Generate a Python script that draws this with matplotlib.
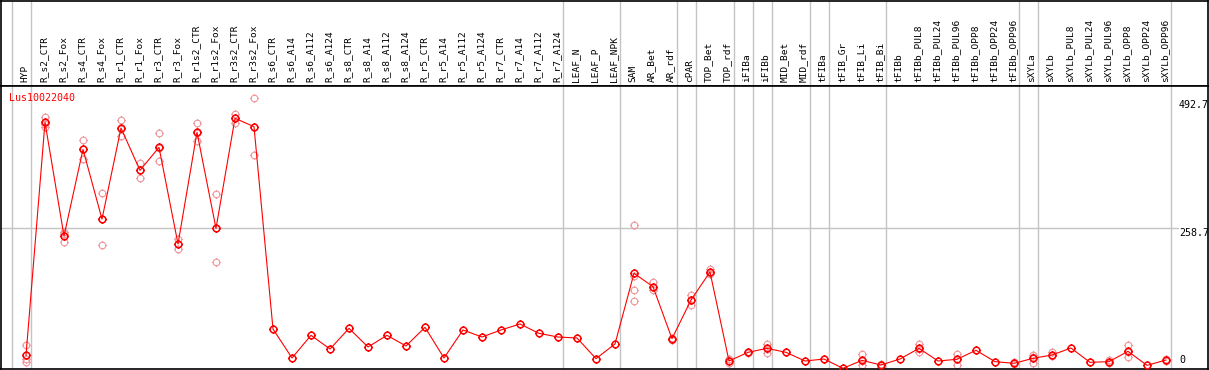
import numpy as np
import matplotlib.pyplot as plt
from matplotlib.path import Path

# Proben (Spalten), von links nach rechts
samples = ['HYP', 'R_s2_CTR', 'R_s2_Fox', 'R_s4_CTR', 'R_s4_Fox', 'R_r1_CTR', 'R_r1_Fox',
           'R_r3_CTR', 'R_r3_Fox', 'R_r1s2_CTR', 'R_r1s2_Fox', 'R_r3s2_CTR', 'R_r3s2_Fox',
           'R_s6_CTR', 'R_s6_A14', 'R_s6_A112', 'R_s6_A124', 'R_s8_CTR', 'R_s8_A14',
           'R_s8_A112', 'R_s8_A124', 'R_r5_CTR', 'R_r5_A14', 'R_r5_A112', 'R_r5_A124',
           'R_r7_CTR', 'R_r7_A14', 'R_r7_A112', 'R_r7_A124', 'LEAF_N', 'LEAF_P', 'LEAF_NPK',
           'SAM', 'AR_Bet', 'AR_rdf', 'cPAR', 'TOP_Bet', 'TOP_rdf', 'iFIBa', 'iFIBb',
           'MID_Bet', 'MID_rdf', 'tFIBa', 'tFIB_Gr', 'tFIB_Li', 'tFIB_Bi', 'tFIBb',
           'tFIBb_PUL8', 'tFIBb_PUL24', 'tFIBb_PUL96', 'tFIBb_OPP8', 'tFIBb_OPP24',
           'tFIBb_OPP96', 'sXYLa', 'sXYLb', 'sXYLb_PUL8', 'sXYLb_PUL24', 'sXYLb_PUL96',
           'sXYLb_OPP8', 'sXYLb_OPP24', 'sXYLb_OPP96']

# Mittelwerte
means = [25.0, 452.6, 244.0, 403.0, 275.0, 442.0, 364.5, 406.7, 229.4, 434.3, 258.0, 460.0,
         444.6, 73.4, 20.2, 61.8, 36.7, 74.6, 40.4, 61.8, 42.2, 76.5, 20.2, 71.6, 58.7,
         71.6, 82.6, 65.4, 58.7, 56.9, 19.0, 45.9, 175.6, 151.0, 55.6, 126.6, 178.0, 14.7,
         30.6, 37.9, 30.6, 14.7, 18.3, 1.2, 15.9, 7.3, 18.3, 37.9, 14.7, 17.8, 34.3, 13.5,
         10.4, 19.6, 25.7, 38.5, 12.2, 13.5, 32.4, 6.7, 16.5]

# Einzelwerte (Replikate), leer wenn nicht sichtbar
reps = [[43.4, 19.0, 12.8], [463.0, 444.6, 450.0], [252.0, 232.5, 247.0],
        [420.0, 384.7, 404.0], [322.0, 227.5, 275.0], [457.0, 427.5, 441.0],
        [378.5, 350.0, 365.0], [432.4, 382.0, 406.0], [238.0, 220.8, 229.0],
        [451.0, 419.0, 433.0], [320.5, 195.7, 258.0], [468.0, 452.0, 460.0],
        [496.7, 392.0, 444.6]] + [[] for _ in range(19)] + [
        [263.6, 170.6, 144.4, 124.8], [159.6, 144.4, 151.0], [57.5, 53.5],
        [136.4, 117.4, 126.0], [182.9, 176.0, 175.0], [17.6, 11.6], [32.0, 29.0],
        [46.5, 30.0, 37.5], [], [], [], [], [26.9, 7.3, 15.0], [10.0, 4.5], [],
        [45.9, 31.8, 36.0], [], [27.5, 7.3, 18.0], [], [], [13.3, 8.3],
        [25.7, 10.4, 22.0], [30.6, 24.0], [], [], [16.5, 10.4], [43.4, 22.0, 32.0],
        [], [19.0, 14.0]]

# Gruppengrenzen: Linie jeweils nach dieser Spalte
group_ends = [-1, 0, 28, 31, 34, 35, 37, 38, 39, 41, 42, 45, 52, 53, 60]

gene = 'Lus10022040'
ymax_label = 492.7
ymid_label = 258.7

x = np.arange(len(samples))

# Marker: Kreis mit kleinen Strichen aussen
circ = Path.unit_circle()
ticks = Path([(0, 1), (0, 1.25), (0, -1), (0, -1.25), (1, 0), (1.25, 0), (-1, 0), (-1.25, 0)],
             [Path.MOVETO, Path.LINETO] * 4)
sun = Path.make_compound_path(circ, ticks)

W, H = 1209, 370
fig = plt.figure(figsize=(W / 100, H / 100), dpi=100)
ax_head = fig.add_axes([1 / W, (H - 86) / H, 1207 / W, 85 / H])
ax = fig.add_axes([1 / W, 1 / H, 1207 / W, 283 / H])

xlim = ((1 - 26) / 19, (1208 - 26) / 19)
for a in (ax_head, ax):
    a.set_xlim(xlim)
    a.set_xticks([])
    a.set_yticks([])
    for s in a.spines.values():
        s.set_color('black')
        s.set_linewidth(1.2)
    for g in group_ends:
        a.axvline(g + 0.25, color='#c4c4c4', lw=1, zorder=1)

ax.set_ylim(0, ymid_label * 283 / 141)
ax_head.set_ylim(0, 1)

# Spaltenbeschriftung
for i, name in enumerate(samples):
    ax_head.text(i - 0.07, 0.045, name, rotation=90, ha='center', va='bottom',
                 family='DejaVu Sans Mono', fontsize=6.8, color='black')

ax.axhline(ymid_label, xmin=0, xmax=0.975, color='#c4c4c4', lw=1, zorder=1)

# Replikate
for i, r in enumerate(reps):
    if r:
        ax.plot([i] * len(r), r, linestyle='none', marker=sun, markersize=6.0,
                markerfacecolor='none', markeredgecolor='#ee979c', markeredgewidth=0.8, zorder=2)

# Mittelwerte mit Linie
ax.plot(x, means, color='red', lw=0.8, marker=sun, markersize=6.0,
        markerfacecolor='none', markeredgecolor='red', markeredgewidth=1.1, zorder=3)

ax.text(0.007, 0.975, gene, transform=ax.transAxes, ha='left', va='top',
        family='DejaVu Sans Mono', fontsize=7.2, color='red')

xr = (1179 - 26) / 19
ax.text(xr, ymax_label, str(ymax_label), ha='left', va='top',
        family='DejaVu Sans Mono', fontsize=7.2, color='black')
ax.text(xr, ymid_label, str(ymid_label), ha='left', va='top',
        family='DejaVu Sans Mono', fontsize=7.2, color='black')
ax.text(xr, 6.5, '0', ha='left', va='bottom',
        family='DejaVu Sans Mono', fontsize=7.2, color='black')

fig.savefig('out.png', dpi=100)
